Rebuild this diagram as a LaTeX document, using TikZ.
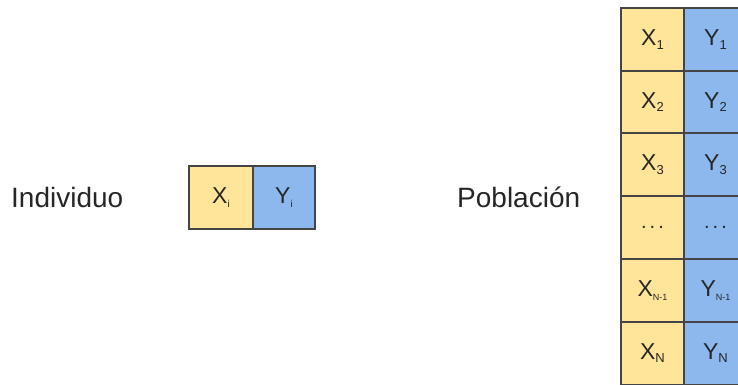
\documentclass[tikz,border=0pt]{standalone}
\usepackage{fontspec}
\setmainfont{Liberation Sans}
\definecolor{cy}{HTML}{FFE599}
\definecolor{cb}{HTML}{8DB8EE}
\definecolor{bd}{HTML}{444444}
\definecolor{tx}{HTML}{262626}
\begin{document}
\begin{tikzpicture}[x=1pt,y=-1pt,
  cell/.style={draw=bd,line width=2pt,minimum width=63pt,minimum height=63pt,inner sep=0pt,anchor=north west,text=tx,font=\fontsize{23}{23}\selectfont},
  ycell/.style={cell,fill=cy},
  bcell/.style={cell,fill=cb},
  lbl/.style={text=tx,font=\fontsize{28}{28}\selectfont,inner sep=0pt}]
\useasboundingbox (0,0) rectangle (738,384);
\begin{scope}
\clip (0,0) rectangle (738,384);
\node[lbl,anchor=west] (ind) at (11,197) {Individuo};
\node[lbl,anchor=west] (pob) at (457,197) {Población};
\node[ycell,minimum width=64pt] (xi) at (188,165) {X\raisebox{-0.3ex}{\fontsize{10}{10}\selectfont i}};
\node[bcell,minimum width=62pt] (yi) at (252,165) {Y\raisebox{-0.3ex}{\fontsize{10}{10}\selectfont i}};
\foreach \i/\s/\fs in {0/1/13,1/2/13,2/3/13,4/{N-1}/9,5/N/13}{
  \node[ycell] (x\i) at (620,{7+62.7*\i}) {X\raisebox{-0.3ex}{\fontsize{\fs}{\fs}\selectfont \s}};
  \node[bcell] (y\i) at (683,{7+62.7*\i}) {Y\raisebox{-0.3ex}{\fontsize{\fs}{\fs}\selectfont \s}};
}
\node[ycell] (x3) at (620,{7+62.7*3}) {{\fontsize{20}{20}\selectfont .\kern3pt.\kern3pt.}};
\node[bcell] (y3) at (683,{7+62.7*3}) {{\fontsize{20}{20}\selectfont .\kern3pt.\kern3pt.}};
\end{scope}
\end{tikzpicture}
\end{document}
